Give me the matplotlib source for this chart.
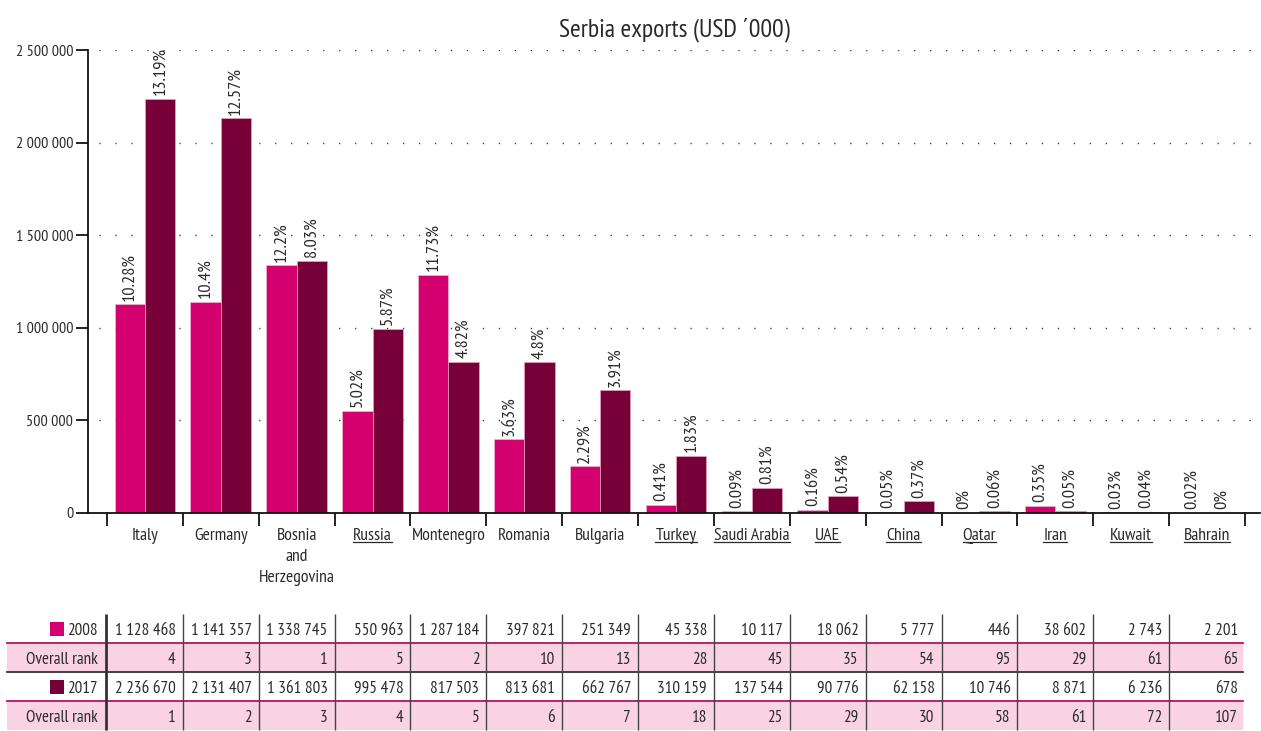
import numpy as np
import matplotlib
matplotlib.use('Agg')
import matplotlib.pyplot as plt
from matplotlib import transforms
from matplotlib import font_manager as fm
from matplotlib.patches import Rectangle
from matplotlib.lines import Line2D
from matplotlib.textpath import TextPath
from matplotlib.font_manager import FontProperties

# ---------------- data ----------------
countries = ['Italy', 'Germany', 'Bosnia\nand\nHerzegovina', 'Russia', 'Montenegro',
             'Romania', 'Bulgaria', 'Turkey', 'Saudi Arabia', 'UAE', 'China',
             'Qatar', 'Iran', 'Kuwait', 'Bahrain']
underlined = [False, False, False, True, False, False, False, True, True, True,
              True, True, True, True, True]
exports_2008 = [1128468, 1141357, 1338745, 550963, 1287184, 397821, 251349, 45338,
                10117, 18062, 5777, 446, 38602, 2743, 2201]
rank_2008 = [4, 3, 1, 5, 2, 10, 13, 28, 45, 35, 54, 95, 29, 61, 65]
exports_2017 = [2236670, 2131407, 1361803, 995478, 817503, 813681, 662767, 310159,
                137544, 90776, 62158, 10746, 8871, 6236, 678]
rank_2017 = [1, 2, 3, 4, 5, 6, 7, 18, 25, 29, 30, 58, 61, 72, 107]
share_2008 = ['10.28%', '10.4%', '12.2%', '5.02%', '11.73%', '3.63%', '2.29%', '0.41%',
              '0.09%', '0.16%', '0.05%', '0%', '0.35%', '0.03%', '0.02%']
share_2017 = ['13.19%', '12.57%', '8.03%', '5.87%', '4.82%', '4.8%', '3.91%', '1.83%',
              '0.81%', '0.54%', '0.37%', '0.06%', '0.05%', '0.04%', '0%']
yticks = [0, 500000, 1000000, 1500000, 2000000, 2500000]
series_labels = ['2008', '2017']
rank_label = 'Overall rank'
title = 'Serbia exports (USD \u00b4000)'

c08 = '#d5006f'
c17 = '#780038'
txt = '#2a2a2a'
pink = '#f9d3e3'
crimson = '#b5145f'

# ---------------- font choice ----------------
regular = {f.name for f in fm.fontManager.ttflist
           if f.style == 'normal' and f.weight in (400, 'normal', 'regular')}
family = 'DejaVu Sans'
for cand in ['Myriad Pro Condensed', 'PT Sans Narrow', 'Roboto Condensed',
             'Fira Sans Condensed', 'Archivo Narrow', 'Liberation Sans Narrow',
             'IBM Plex Sans Condensed', 'Encode Sans Condensed', 'Asap Condensed']:
    if cand in regular:
        family = cand
        break
plt.rcParams['font.family'] = [family, 'DejaVu Sans']
plt.rcParams['lines.scale_dashes'] = False


def size_for(s, target_px):
    w = TextPath((0, 0), s, size=10, prop=FontProperties(family=family)).get_extents().width
    return 10 * target_px * 0.72 / w


fs_tick = size_for('2 500 000', 56)
fs_pct = size_for('13.19%', 46)
fs_title = size_for(title, 230)
fs_cat = size_for('Montenegro', 72)
fs_tab = size_for('1 128 468', 59)


def fmt(v):
    return f'{v:,}'.replace(',', ' ')


# ---------------- layout ----------------
W, H = 1261, 731
fig = plt.figure(figsize=(W / 100, H / 100), dpi=100)
ax = fig.add_axes([88 / W, (H - 513) / H, (1260 - 88) / W, 463 / H])
ppu = (1245 - 107) / 15.0
ax.set_xlim(-0.5 - 19 / ppu, -0.5 + (1260 - 107) / ppu)
ax.set_ylim(0, 2500000)

n = len(countries)
x = np.arange(n)
ax.bar(x - 0.2, exports_2008, width=0.4, color=c08, edgecolor='#f3b3cf',
       linewidth=0.5, zorder=2)
ax.bar(x + 0.2, exports_2017, width=0.4, color=c17, edgecolor='#e9a3c3',
       linewidth=0.5, zorder=2)

for i in range(n):
    ax.annotate(share_2008[i], (x[i] - 0.2, exports_2008[i]), xytext=(0, 2.5),
                textcoords='offset points', rotation=90, ha='center', va='bottom',
                fontsize=fs_pct, color=txt)
    ax.annotate(share_2017[i], (x[i] + 0.2, exports_2017[i]), xytext=(0, 2.5),
                textcoords='offset points', rotation=90, ha='center', va='bottom',
                fontsize=fs_pct, color=txt)

# grid
gx0 = -0.5 - 8 / ppu
gx1 = -0.5 + (1252 - 107) / ppu
ax.hlines(yticks[1:], gx0, gx1, colors='#333333', linestyles=[(0, (0.9, 10.6))],
          linewidth=1.0, zorder=1)

for s in ['top', 'right']:
    ax.spines[s].set_visible(False)
ax.spines['left'].set_linewidth(1.3)
ax.spines['bottom'].set_linewidth(1.3)
ax.spines['left'].set_color('#111111')
ax.spines['bottom'].set_color('#111111')

ax.set_yticks(yticks)
ax.set_yticklabels([fmt(v) for v in yticks])
ax.tick_params(axis='y', length=8.6, width=1.3, labelsize=fs_tick, pad=2,
               colors='#111111', labelcolor=txt)

ax.set_xticks(np.arange(-0.5, n, 1))
ax.set_xticklabels([])
ax.tick_params(axis='x', which='major', length=9.4, width=1.3, colors='#111111')
ax.set_xticks(x, minor=True)
ax.set_xticklabels(countries, minor=True)
ax.tick_params(axis='x', which='minor', length=0, pad=11, labelsize=fs_cat, labelcolor=txt)
for lab in ax.xaxis.get_minorticklabels():
    lab.set_linespacing(1.4)

ax.set_title(title, fontsize=fs_title, pad=10, color=txt)

# ---------------- table ----------------
ax2 = fig.add_axes([0, 0, 1, 1])
ax2.axis('off')
ax2.set_autoscale_on(False)
ax2.set_xlim(0, W)
ax2.set_ylim(H, 0)
tr = transforms.blended_transform_factory(ax.transData, ax2.transData)

row_tops = [614, 643, 672, 701]
row_h = 29
rows = [[fmt(v) for v in exports_2008], [str(v) for v in rank_2008],
        [fmt(v) for v in exports_2017], [str(v) for v in rank_2017]]
row_names = [series_labels[0], rank_label, series_labels[1], rank_label]

for r in (1, 3):
    ax2.add_patch(Rectangle((7, row_tops[r]), 1243 - 7, row_h, facecolor=pink,
                            edgecolor='none', zorder=0))
ax2.plot([7, 1243], [row_tops[1], row_tops[1]], color=crimson, lw=1.3)
ax2.plot([7, 1243], [row_tops[3], row_tops[3]], color=crimson, lw=1.3)
ax2.plot([7, 1243], [row_tops[2], row_tops[2]], color='#333333', lw=1.3)

ax2.vlines([-0.5 - 1 / ppu], 614, 730, colors='#333333', lw=2.0, transform=tr)
ax2.vlines(np.arange(0.5, n - 1, 1), 614, 730, colors='#444444', lw=1.0, transform=tr)

off = transforms.ScaledTranslation(-7 / 100, 0, fig.dpi_scale_trans)
for r in range(4):
    yc = row_tops[r] + 15
    for i in range(n):
        ax2.text(x[i] + 0.5, yc, rows[r][i], transform=tr + off, ha='right',
                 va='center_baseline', fontsize=fs_tab, color=txt)
    ax2.text(98, yc, row_names[r], ha='right', va='center_baseline', fontsize=fs_tab,
             color=txt)

ax2.add_patch(Rectangle((50, 622), 14, 14, facecolor=c08, edgecolor='none'))
ax2.add_patch(Rectangle((50, 680), 14, 14, facecolor=c17, edgecolor='none'))

# ---------------- underlines ----------------
fig.canvas.draw()
renderer = fig.canvas.get_renderer()
for lab, u in zip(ax.xaxis.get_minorticklabels(), underlined):
    if u:
        bb = lab.get_window_extent(renderer)
        yl = bb.y0 + 2.5
        fig.add_artist(Line2D([bb.x0, bb.x1], [yl, yl], color=txt, lw=0.9,
                              transform=transforms.IdentityTransform()))

fig.savefig('out.png', dpi=100)
